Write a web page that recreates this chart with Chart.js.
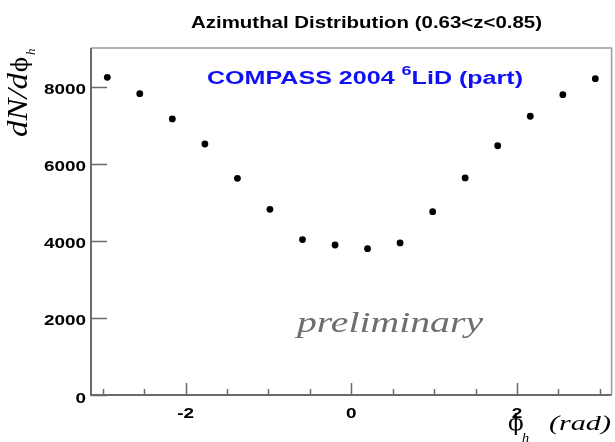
<!DOCTYPE html>
<html>
<head>
<meta charset="utf-8">
<script src="https://cdn.jsdelivr.net/npm/chart.js@4/dist/chart.umd.min.js"></script>
<style>
  html, body { margin: 0; padding: 0; background: #ffffff; }
  canvas { display: block; }
</style>
</head>
<body>
<canvas id="c" width="615" height="442"></canvas>
<script>
// Azimuthal distribution of hadrons, 16 bins over [-pi, pi]
const phiBinCenters = [-2.945, -2.553, -2.160, -1.767, -1.374, -0.982, -0.589, -0.196,
                        0.196,  0.589,  0.982,  1.374,  1.767,  2.160,  2.553,  2.945];
const counts = [8240, 7815, 7160, 6510, 5620, 4815, 4030, 3890,
                3795, 3945, 4755, 5630, 6465, 7230, 7790, 8205];

const yTickValues = [0, 2000, 4000, 6000, 8000];
const xMajorTicks = [-2, 0, 2];
const xMinorTicks = [-3, -2.5, -1.5, -1, -0.5, 0.5, 1, 1.5, 2.5, 3];

const titleText = 'Azimuthal Distribution (0.63<z<0.85)';
const watermark = 'preliminary';

// Draw a run of text pieces (with sub/superscripts), stretched horizontally
// either by a fixed factor or so the whole run spans `width` pixels.
function drawRich(ctx, parts, x, y, opts) {
  ctx.save();
  let natural = 0;
  const widths = parts.map(p => {
    ctx.font = p.font;
    const w = ctx.measureText(p.t).width;
    natural += w;
    return w;
  });
  const sx = opts.width ? opts.width / natural : (opts.sx || 1);
  ctx.translate(x, y);
  ctx.scale(sx, 1);
  let cx = 0;
  if (opts.align === 'center') cx = -natural / 2;
  else if (opts.align === 'right') cx = -natural;
  ctx.textAlign = 'left';
  ctx.textBaseline = 'alphabetic';
  parts.forEach((p, i) => {
    ctx.font = p.font;
    ctx.fillStyle = p.color || opts.color || '#000';
    ctx.fillText(p.t, cx, p.dy || 0);
    cx += widths[i];
  });
  ctx.restore();
}

const framePlugin = {
  id: 'rootFrame',
  beforeDatasetsDraw(chart) {
    const { ctx, chartArea: a, scales } = chart;
    const xs = scales.x, ys = scales.y;
    ctx.save();
    // top and right frame
    ctx.strokeStyle = '#9a9a9a';
    ctx.lineWidth = 1.5;
    ctx.beginPath();
    ctx.moveTo(a.left, a.top);
    ctx.lineTo(a.right, a.top);
    ctx.lineTo(a.right, a.bottom);
    ctx.stroke();
    // axes
    ctx.strokeStyle = '#6a6a6a';
    ctx.lineWidth = 2;
    ctx.beginPath();
    ctx.moveTo(a.left, a.top);
    ctx.lineTo(a.left, a.bottom);
    ctx.lineTo(a.right, a.bottom);
    ctx.stroke();
    // inward ticks
    ctx.lineWidth = 1.5;
    ctx.beginPath();
    yTickValues.forEach(v => {
      const py = Math.round(ys.getPixelForValue(v)) + 0.5;
      ctx.moveTo(a.left, py);
      ctx.lineTo(a.left + 16, py);
    });
    xMajorTicks.forEach(v => {
      const px = Math.round(xs.getPixelForValue(v)) + 0.5;
      ctx.moveTo(px, a.bottom);
      ctx.lineTo(px, a.bottom - 12);
    });
    xMinorTicks.forEach(v => {
      const px = Math.round(xs.getPixelForValue(v)) + 0.5;
      ctx.moveTo(px, a.bottom);
      ctx.lineTo(px, a.bottom - 6);
    });
    ctx.stroke();
    ctx.restore();
  },
  afterDraw(chart) {
    const { ctx, chartArea: a, scales } = chart;
    const xs = scales.x, ys = scales.y;
    const tickFont = 'bold 14px "Liberation Sans", Arial, sans-serif';

    // tick labels
    yTickValues.forEach(v => {
      drawRich(ctx, [{ t: String(v), font: tickFont }],
        a.left - 5, ys.getPixelForValue(v) + 7.5, { align: 'right', sx: 1.35 });
    });
    xMajorTicks.forEach(v => {
      drawRich(ctx, [{ t: String(v), font: tickFont }],
        xs.getPixelForValue(v), a.bottom + 22.5, { align: 'center', sx: 1.35 });
    });

    // title
    drawRich(ctx, [{ t: titleText, font: 'bold 17px "Liberation Sans", Arial, sans-serif' }],
      191, 28, { width: 351 });

    // experiment label
    const bf = s => 'bold ' + s + 'px "Liberation Sans", Arial, sans-serif';
    drawRich(ctx, [
      { t: 'COMPASS 2004 ', font: bf(18) },
      { t: '6', font: bf(13), dy: -9 },
      { t: 'LiD (part)', font: bf(18) }
    ], 207, 83.5, { width: 316, color: '#1010f5' });

    // watermark
    drawRich(ctx, [{ t: watermark, font: 'italic 30px "Liberation Serif", serif' }],
      297, 332, { width: 186, color: '#6e6e6e' });

    // x axis title
    drawRich(ctx, [{ t: '\u03D5', font: '23px "DejaVu Serif", serif' }], 508, 430, { sx: 1.0 });
    drawRich(ctx, [{ t: 'h', font: 'italic 13px "Liberation Serif", serif' }], 522, 442, { sx: 1.1 });
    drawRich(ctx, [{ t: '(rad)', font: 'italic 21px "Liberation Serif", serif' }], 549, 430, { width: 62 });

    // y axis title (rotated)
    ctx.save();
    ctx.translate(27, 137);
    ctx.rotate(-Math.PI / 2);
    ctx.fillStyle = '#000';
    ctx.textBaseline = 'alphabetic';
    ctx.textAlign = 'left';
    ctx.font = 'italic 30px "Liberation Serif", serif';
    const w1 = ctx.measureText('dN/d').width;
    ctx.save();
    ctx.scale(64 / w1, 1);
    ctx.fillText('dN/d', 0, 0);
    ctx.restore();
    ctx.font = '22px "DejaVu Serif", serif';
    ctx.fillText('\u03D5', 65, 0);
    ctx.font = 'italic 13px "Liberation Serif", serif';
    ctx.fillText('h', 82, 8);
    ctx.restore();
  }
};

new Chart(document.getElementById('c'), {
  type: 'scatter',
  data: {
    datasets: [{
      data: phiBinCenters.map((x, i) => ({ x, y: counts[i] })),
      backgroundColor: '#000000',
      borderColor: '#000000',
      pointRadius: 3.4,
      pointBorderWidth: 0,
      pointHoverRadius: 3.4
    }]
  },
  options: {
    responsive: false,
    animation: false,
    devicePixelRatio: 1,
    layout: { padding: { top: 48, right: 3, bottom: 0, left: 0 } },
    plugins: {
      legend: { display: false },
      tooltip: { enabled: false },
      title: { display: false }
    },
    scales: {
      x: {
        type: 'linear',
        min: -Math.PI,
        max: Math.PI,
        grid: { display: false },
        border: { display: false },
        ticks: { display: false },
        afterFit(s) { s.height = 47; }
      },
      y: {
        type: 'linear',
        min: 0,
        max: 9000,
        grid: { display: false },
        border: { display: false },
        ticks: { display: false },
        afterFit(s) { s.width = 91; }
      }
    }
  },
  plugins: [framePlugin]
});
</script>
</body>
</html>
